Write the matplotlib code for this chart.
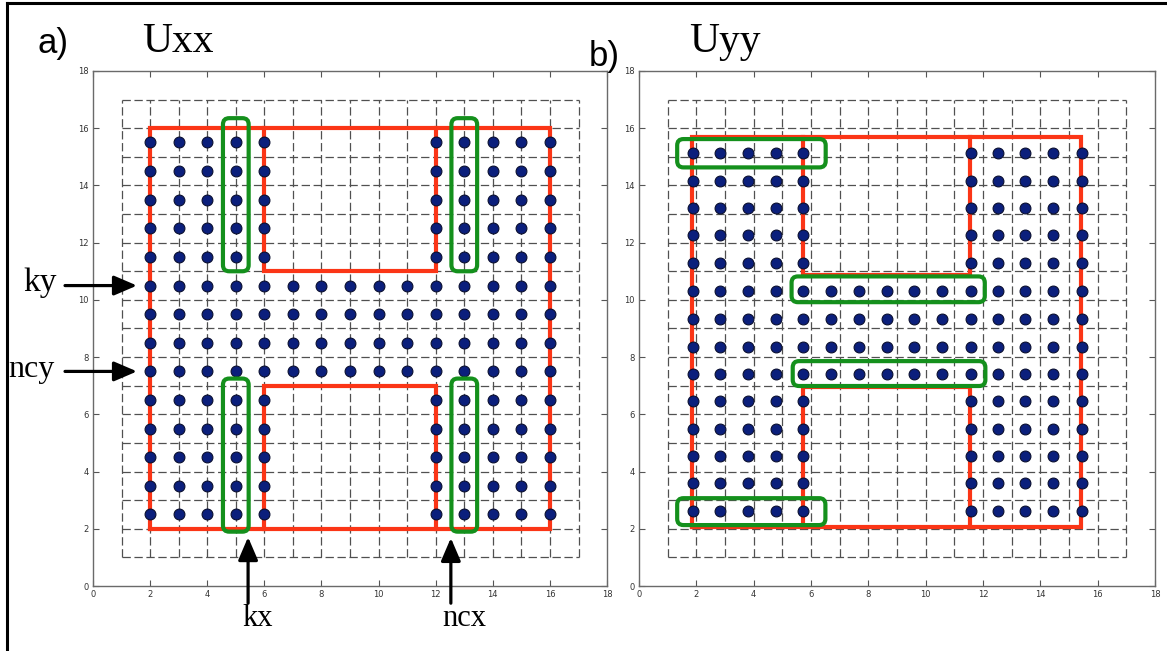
import numpy as np
import matplotlib
matplotlib.use("Agg")
import matplotlib.pyplot as plt
from matplotlib.patches import FancyBboxPatch
from matplotlib.lines import Line2D

plt.rcParams["lines.scale_dashes"] = False

# ---- data ----
grid_lines = list(range(1, 18))
ticks = [0, 2, 4, 6, 8, 10, 12, 14, 16, 18]

# Uxx: dots on integer x, half-integer y
uxx_cols = [2, 3, 4, 5, 6, 7, 8, 9, 10, 11, 12, 13, 14, 15, 16]
uxx_rows = [2.5, 3.5, 4.5, 5.5, 6.5, 7.5, 8.5, 9.5, 10.5, 11.5, 12.5, 13.5, 14.5, 15.5]
uxx_full_rows = [7.5, 8.5, 9.5, 10.5]
uxx_side_cols = [2, 3, 4, 5, 6, 12, 13, 14, 15, 16]
uxx_outline = [  # (x list, y list) red polylines
    ([2, 2, 16, 16, 2], [2, 16, 16, 2, 2]),
    ([6, 6, 12, 12], [16, 11, 11, 16]),
    ([6, 6, 12, 12], [2, 7, 7, 2]),
]
uxx_boxes = [(4.55, 11.0, 5.45, 16.35), (4.55, 1.9, 5.45, 7.25),
             (12.55, 11.0, 13.45, 16.35), (12.55, 1.9, 13.45, 7.25)]

# Uyy: positions as drawn (slightly off the grid)
uyy_cols = [1.88, 2.84, 3.80, 4.77, 5.72, 6.71, 7.67, 8.65, 9.59, 10.55,
            11.59, 12.52, 13.45, 14.44, 15.44]
uyy_rows = [2.62, 3.59, 4.56, 5.49, 6.47, 7.41, 8.37, 9.34, 10.31, 11.28,
            12.27, 13.22, 14.17, 15.12]
uyy_full_rows = [7.41, 8.37, 9.34, 10.31]
uyy_side_cols = [1.88, 2.84, 3.80, 4.77, 5.72, 11.59, 12.52, 13.45, 14.44, 15.44]
uyy_outline = [
    ([1.86, 1.86, 15.42, 15.42, 1.86], [2.07, 15.68, 15.68, 2.07, 2.07]),
    ([5.71, 5.71, 11.55, 11.55], [15.68, 10.87, 10.87, 15.68]),
    ([5.71, 5.71, 11.55, 11.55], [2.07, 6.97, 6.97, 2.07]),
]
uyy_boxes = [(1.33, 14.63, 6.51, 15.62), (1.33, 2.13, 6.50, 3.07),
             (5.32, 9.92, 12.06, 10.82), (5.36, 6.99, 12.08, 7.86)]

RED = "#fb3516"
GREEN = "#14901c"
NAVY = "#0b1f7c"


def dots(cols, rows, full_rows, side_cols):
    xs, ys = [], []
    for y in rows:
        use = cols if y in full_rows else side_cols
        for x in use:
            xs.append(x)
            ys.append(y)
    return xs, ys


def panel(ax, cols, rows, full_rows, side_cols, outline, boxes):
    for g in grid_lines:
        ax.plot([g, g], [1, 17], color="#505050", lw=0.9, ls=(0, (6, 2.6)), zorder=1)
        ax.plot([1, 17], [g, g], color="#505050", lw=0.9, ls=(0, (6, 2.6)), zorder=1)
    for xs, ys in outline:
        ax.plot(xs, ys, color=RED, lw=3, solid_joinstyle="miter", zorder=2)
    xs, ys = dots(cols, rows, full_rows, side_cols)
    ax.plot(xs, ys, "o", ms=7.8, mfc=NAVY, mec="#0a0f30", mew=0.8, zorder=3)
    for x0, y0, x1, y1 in boxes:
        ax.add_patch(FancyBboxPatch((x0, y0), x1 - x0, y1 - y0,
                                    boxstyle="round,pad=0,rounding_size=0.22",
                                    fc="none", ec=GREEN, lw=3, zorder=4))
    ax.set_xlim(0, 18)
    ax.set_ylim(0, 18)
    ax.set_xticks(ticks)
    ax.set_yticks(ticks)
    ax.tick_params(direction="in", length=4, width=0.8, color="#555555",
                   labelsize=6, labelcolor="#333333", top=True, right=True, pad=3)
    for s in ax.spines.values():
        s.set_color("#6a6a6a")
        s.set_linewidth(1.0)


fig = plt.figure(figsize=(11.67, 6.51), dpi=100)
ax1 = fig.add_axes([0.0797, 0.0998, 0.4405, 0.7912])
ax2 = fig.add_axes([0.5476, 0.0998, 0.4422, 0.7912])

panel(ax1, uxx_cols, uxx_rows, uxx_full_rows, uxx_side_cols, uxx_outline, uxx_boxes)
panel(ax2, uyy_cols, uyy_rows, uyy_full_rows, uyy_side_cols, uyy_outline, uyy_boxes)

# arrows and labels on the Uxx panel
aprops = dict(arrowstyle="-|>,head_length=1.4,head_width=0.6", lw=2.3, color="k",
              mutation_scale=10, shrinkA=0, shrinkB=0)
serif = "Liberation Serif"
for tail, tip in [((-0.98, 10.5), (1.54, 10.5)), ((-0.98, 7.5), (1.54, 7.5)),
                  ((5.43, -0.6), (5.43, 1.71)), ((12.53, -0.6), (12.53, 1.68))]:
    ax1.annotate("", xy=tip, xytext=tail, arrowprops=aprops, annotation_clip=False)
ax1.text(-1.85, 10.6, "ky", family=serif, fontsize=24, ha="center", va="center")
ax1.text(-2.15, 7.55, "ncy", family=serif, fontsize=23, ha="center", va="center")
ax1.text(5.75, -0.62, "kx", family=serif, fontsize=22, ha="center", va="top")
ax1.text(13.0, -0.62, "ncx", family=serif, fontsize=22, ha="center", va="top")

# panel titles
fig.text(0.0454, 0.918, "a)", family="Liberation Sans", fontsize=25, ha="center", va="baseline")
fig.text(0.1525, 0.920, "Uxx", family=serif, fontsize=30, ha="center", va="baseline")
fig.text(0.5176, 0.898, "b)", family="Liberation Sans", fontsize=25, ha="center", va="baseline")
fig.text(0.621, 0.920, "Uyy", family=serif, fontsize=30, ha="center", va="baseline")

# frame lines at the figure edge
fig.add_artist(Line2D([0.006, 0.006], [0.0, 0.995], transform=fig.transFigure, color="k", lw=2.2))
fig.add_artist(Line2D([0.006, 1.0], [0.995, 0.995], transform=fig.transFigure, color="k", lw=2.2))

fig.savefig("out.png", dpi=100)
